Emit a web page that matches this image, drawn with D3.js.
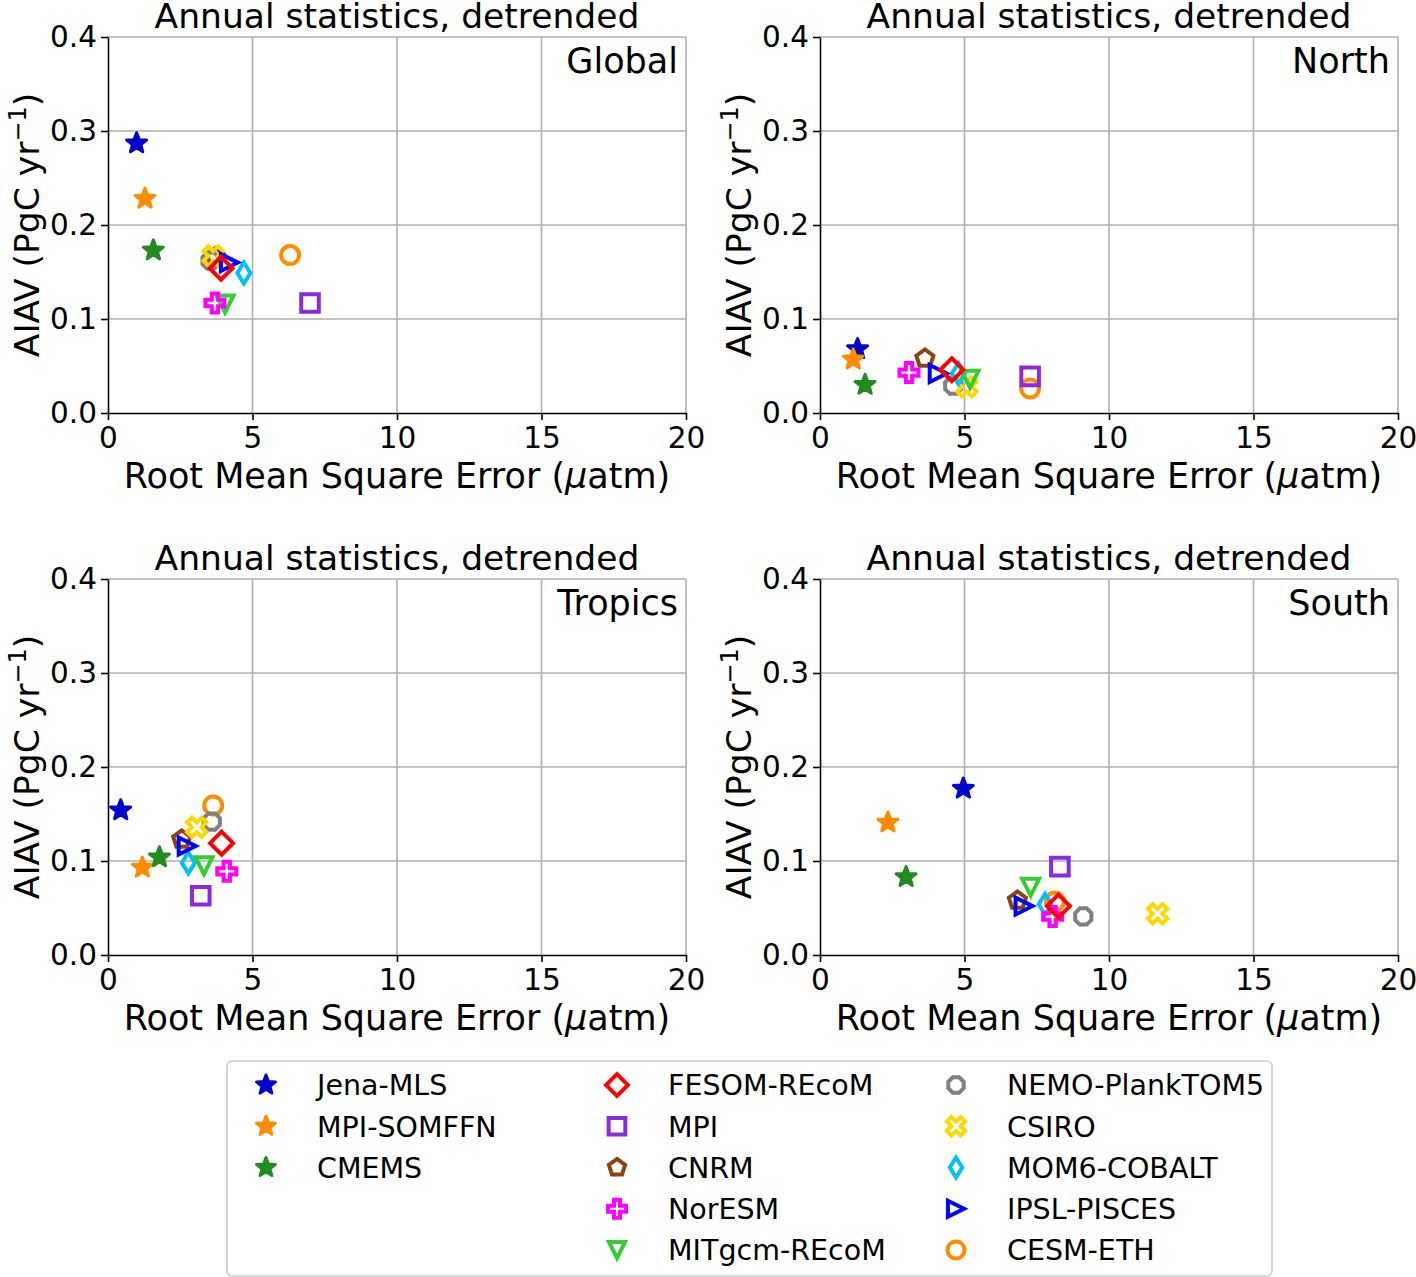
<!DOCTYPE html>
<html>
<head>
<meta charset="utf-8">
<script src="https://cdn.jsdelivr.net/npm/d3@7"></script>
<style>
  body { margin: 0; background: #fff; }
  svg text { font-family: "DejaVu Sans", sans-serif; fill: #000; }
</style>
</head>
<body>
<div id="chart-area"></div>
<script>
// data
const models = ["Jena-MLS", "MPI-SOMFFN", "CMEMS", "FESOM-REcoM", "MPI", "CNRM", "NorESM",
    "MITgcm-REcoM", "NEMO-PlankTOM5", "CSIRO", "MOM6-COBALT", "IPSL-PISCES", "CESM-ETH"];
const colors = ["#0000cd", "#ff8c00", "#228b22", "#ff0000", "#8a2be2", "#8b4513", "#ff00ff",
    "#32cd32", "#808080", "#ffd700", "#00bfff", "#0000ff", "#ff8c00"];
const shapes = ["*", "*", "*", "D", "s", "p", "P", "v", "8", "X", "d", ">", "o"];

const regions = ["Global", "North", "Tropics", "South"];
const rmseGlobal = [0.99, 1.28, 1.57, 3.91, 6.99, 3.72, 3.70, 4.05, 3.55, 3.64, 4.70, 4.20, 6.30];
const aiavGlobal = [0.287, 0.228, 0.173, 0.154, 0.117, 0.166, 0.117, 0.116, 0.162, 0.167, 0.149, 0.160, 0.168];
const rmseNorth = [1.30, 1.15, 1.56, 4.56, 7.27, 3.63, 3.08, 5.19, 4.61, 5.08, 4.79, 4.09, 7.27];
const aiavNorth = [0.068, 0.057, 0.030, 0.046, 0.039, 0.058, 0.043, 0.036, 0.029, 0.028, 0.042, 0.042, 0.026];
const rmseTropics = [0.44, 1.19, 1.78, 3.93, 3.21, 2.55, 4.11, 3.32, 3.59, 3.07, 2.78, 2.74, 3.64];
const aiavTropics = [0.154, 0.093, 0.104, 0.119, 0.063, 0.123, 0.089, 0.095, 0.142, 0.136, 0.098, 0.116, 0.159];
const rmseSouth = [4.96, 2.35, 2.98, 8.25, 8.30, 6.83, 8.05, 7.29, 9.11, 11.68, 7.79, 7.06, 8.13];
const aiavSouth = [0.177, 0.141, 0.083, 0.052, 0.094, 0.058, 0.041, 0.072, 0.041, 0.044, 0.054, 0.052, 0.057];

const xTicks = [0, 5, 10, 15, 20];
const yTicks = [0.0, 0.1, 0.2, 0.3, 0.4];

const panelData = [
    [rmseGlobal, aiavGlobal], [rmseNorth, aiavNorth],
    [rmseTropics, aiavTropics], [rmseSouth, aiavSouth]
];

// which marker goes on top of which
const drawOrder = [12, 4, 5, 8, 9, 10, 11, 7, 6, 3, 0, 1, 2];

const width = 1416;
const height = 1277;
const plotW = 578;
const plotH = 376;
const panelPos = [[108, 37], [820, 37], [108, 579], [820, 579]];

const svg = d3.select("#chart-area")
    .append("svg")
        .attr("width", width)
        .attr("height", height);

// marker outlines, centred on 0,0
function markerPath(shape, k) {
    const pts = [];
    let r;
    switch (shape) {
        case "*":
            r = 10.5 * k;
            for (let i = 0; i < 10; i++) {
                const a = -Math.PI / 2 + i * Math.PI / 5;
                const rr = i % 2 === 0 ? r : r * 0.42;
                pts.push([rr * Math.cos(a), rr * Math.sin(a)]);
            }
            break;
        case "D":
            r = 11.5 * k;
            pts.push([0, -r], [r, 0], [0, r], [-r, 0]);
            break;
        case "d":
            r = 10.5 * k;
            pts.push([0, -r], [r * 0.62, 0], [0, r], [-r * 0.62, 0]);
            break;
        case "s":
            r = 8.8 * k;
            pts.push([-r, -r], [r, -r], [r, r], [-r, r]);
            break;
        case "p":
            r = 9 * k;
            for (let i = 0; i < 5; i++) {
                const a = -Math.PI / 2 + i * 2 * Math.PI / 5;
                pts.push([r * Math.cos(a), r * Math.sin(a)]);
            }
            break;
        case "8":
            r = 8.8 * k;
            for (let i = 0; i < 8; i++) {
                const a = Math.PI / 8 + i * Math.PI / 4;
                pts.push([r * Math.cos(a), r * Math.sin(a)]);
            }
            break;
        case "P":
        case "X": {
            r = 9.5 * k;
            const w = r / 3;
            const base = [[w, -r], [w, -w], [r, -w], [r, w], [w, w], [w, r],
                [-w, r], [-w, w], [-r, w], [-r, -w], [-w, -w], [-w, -r]];
            const ang = shape === "X" ? Math.PI / 4 : 0;
            const s = shape === "X" ? 1.08 : 1;
            base.forEach(([x, y]) => pts.push([
                s * (x * Math.cos(ang) - y * Math.sin(ang)),
                s * (x * Math.sin(ang) + y * Math.cos(ang))
            ]));
            break;
        }
        case "v":
            r = 8.5 * k;
            pts.push([-r, -r], [r, -r], [0, r]);
            break;
        case ">":
            r = 8.5 * k;
            pts.push([-r, -r], [r, 0], [-r, r]);
            break;
        case "o":
            r = 9 * k;
            return `M${r},0A${r},${r} 0 1,1 ${-r},0A${r},${r} 0 1,1 ${r},0Z`;
    }
    return "M" + pts.map(p => p[0].toFixed(2) + "," + p[1].toFixed(2)).join("L") + "Z";
}

function drawMarker(g, i, x, y, k) {
    const filled = shapes[i] === "*";
    g.append("path")
        .attr("transform", `translate(${x}, ${y})`)
        .attr("d", markerPath(shapes[i], k))
        .attr("fill", filled ? colors[i] : "none")
        .attr("stroke", colors[i])
        .attr("stroke-width", filled ? 3 : 4)
        .attr("stroke-linejoin", filled ? "round" : "miter");
}

regions.forEach((region, p) => {
    const [ox, oy] = panelPos[p];
    const [rmse, aiav] = panelData[p];

    const xScale = d3.scaleLinear().domain([0, 20]).range([0, plotW]);
    const yScale = d3.scaleLinear().domain([0, 0.4]).range([plotH, 0]);

    const g = svg.append("g")
        .attr("transform", `translate(${ox}, ${oy})`);

    // grid
    g.append("g")
        .selectAll("line")
        .data(xTicks.filter(t => t > 0))
        .enter()
        .append("line")
        .attr("x1", d => xScale(d)).attr("x2", d => xScale(d))
        .attr("y1", 0).attr("y2", plotH)
        .attr("stroke", "#b0b0b0")
        .attr("stroke-width", 1.6);
    g.append("g")
        .selectAll("line")
        .data(yTicks.filter(t => t > 0))
        .enter()
        .append("line")
        .attr("y1", d => yScale(d)).attr("y2", d => yScale(d))
        .attr("x1", 0).attr("x2", plotW)
        .attr("stroke", "#b0b0b0")
        .attr("stroke-width", 1.6);

    // axes
    const xAxis = g.append("g")
        .attr("transform", `translate(0, ${plotH})`)
        .call(d3.axisBottom(xScale).tickValues(xTicks).tickSize(7).tickPadding(6).tickSizeOuter(0));
    const yAxis = g.append("g")
        .call(d3.axisLeft(yScale).tickValues(yTicks).tickFormat(d3.format(".1f"))
            .tickSize(7).tickPadding(4).tickSizeOuter(0));
    [xAxis, yAxis].forEach(ax => {
        ax.select(".domain").attr("stroke", "#000").attr("stroke-width", 1.6);
        ax.selectAll(".tick line").attr("stroke", "#000").attr("stroke-width", 1.6);
        ax.selectAll(".tick text")
            .attr("font-family", "DejaVu Sans")
            .attr("font-size", 29.5)
            .attr("fill", "#000");
    });
    xAxis.selectAll(".tick text").attr("dy", "0.75em");

    // titles and labels
    g.append("text")
        .attr("x", plotW / 2)
        .attr("y", -9)
        .attr("text-anchor", "middle")
        .attr("font-size", 34.5)
        .text("Annual statistics, detrended");

    g.append("text")
        .attr("x", plotW - 8)
        .attr("y", 36)
        .attr("text-anchor", "end")
        .attr("font-size", 35)
        .text(region);

    const xl = g.append("text")
        .attr("x", plotW / 2)
        .attr("y", plotH + 75)
        .attr("text-anchor", "middle")
        .attr("font-size", 35);
    xl.append("tspan").text("Root Mean Square Error (");
    xl.append("tspan").attr("font-style", "italic").text("\u03bc");
    xl.append("tspan").text("atm)");

    const yl = g.append("text")
        .attr("transform", `translate(${-69}, ${plotH / 2}) rotate(-90)`)
        .attr("text-anchor", "middle")
        .attr("font-size", 34.5);
    yl.append("tspan").text("AIAV (PgC yr");
    yl.append("tspan").attr("font-size", 24).attr("dy", -13).text("\u22121");
    yl.append("tspan").attr("dy", 13).text(")");

    // markers
    const marks = g.append("g");
    drawOrder.forEach(i => {
        drawMarker(marks, i, xScale(rmse[i]), yScale(aiav[i]), 1);
    });
});

// legend
const legend = svg.append("g");
legend.append("rect")
    .attr("x", 227).attr("y", 1061)
    .attr("width", 1045).attr("height", 215)
    .attr("rx", 5)
    .attr("fill", "#fff")
    .attr("stroke", "#cccccc")
    .attr("stroke-width", 1.6);

const legendCols = [[0, 1, 2], [3, 4, 5, 6, 7], [8, 9, 10, 11, 12]];
const legendColX = [266, 617, 956];
const rowY = d3.scaleLinear().domain([0, 4]).range([1085, 1250]);

legendCols.forEach((col, c) => {
    col.forEach((i, r) => {
        drawMarker(legend, i, legendColX[c], rowY(r), 0.95);
        legend.append("text")
            .attr("x", legendColX[c] + 51)
            .attr("y", rowY(r))
            .attr("dy", "0.36em")
            .attr("font-size", 28.5)
            .text(models[i]);
    });
});
</script>
</body>
</html>
